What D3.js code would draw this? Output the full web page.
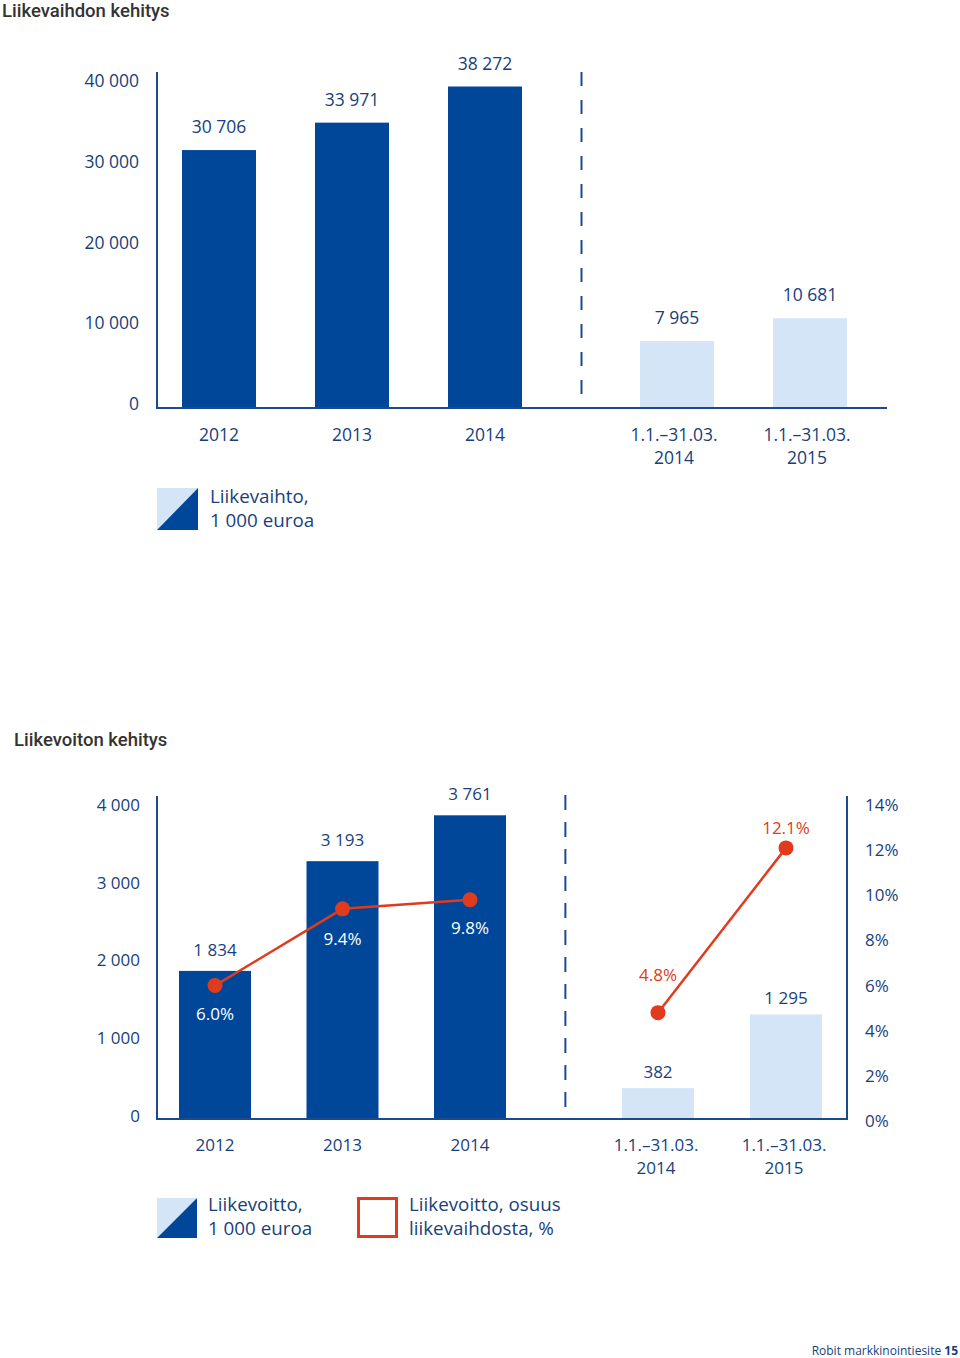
<!DOCTYPE html>
<html><head><meta charset="utf-8">
<script src="https://cdn.jsdelivr.net/npm/d3@7"></script>
<style>
html,body{margin:0;padding:0;background:#fff;}
text{font-family:"Open Sans","Noto Sans",sans-serif;}
</style></head>
<body>
<svg id="c" width="960" height="1358"></svg>
<script>
// ---------- DATA ----------
const revYears = ["2012", "2013", "2014"];
const revValues = [30706, 33971, 38272];
const revQuarters = ["1.1.–31.03. 2014", "1.1.–31.03. 2015"];
const revQuarterValues = [7965, 10681];
const revTicks = [0, 10000, 20000, 30000, 40000];

const ebitYears = ["2012", "2013", "2014"];
const ebitValues = [1834, 3193, 3761];
const ebitPct = [6.0, 9.4, 9.8];
const ebitQuarters = ["1.1.–31.03. 2014", "1.1.–31.03. 2015"];
const ebitQuarterValues = [382, 1295];
const ebitQuarterPct = [4.8, 12.1];
const ebitTicks = [0, 1000, 2000, 3000, 4000];
const pctTicks = [0, 2, 4, 6, 8, 10, 12, 14];

// ---------- STYLE ----------
const DARK = "#00479a", LIGHT = "#d3e5f7", AXIS = "#1d4a8c", TXT = "#183f7c", RED = "#e03b1c", TITLE = "#333333";
const fmt = d3.formatLocale({decimal: ".", thousands: " ", grouping: [3], currency: ["", ""]}).format(",");
const svg = d3.select("#c");

function splitLabel(s){ const i = s.lastIndexOf(" "); return [s.slice(0, i), s.slice(i + 1)]; }

// ================= CHART 1 =================
svg.append("text").attr("x", 2).attr("y", 17).attr("fill", TITLE)
  .style("font-family", "Roboto, sans-serif").style("font-weight", 500).style("font-size", "18.5px")
  .text("Liikevaihdon kehitys");

const y1 = d3.scaleLinear().domain([0, 40000]).range([408, 72]);
const y1Lab = d3.scaleLinear().domain([0, 40000]).range([404, 81]);
const x1a = d3.scaleBand().domain(revYears).range([152.5, 551.5]).paddingInner(59 / 133).paddingOuter(29.5 / 133);
const x1q = d3.scaleBand().domain(revQuarters).range([610.5, 876.5]).paddingInner(59 / 133).paddingOuter(29.5 / 133);

// tick labels
const ax1 = svg.append("g").attr("transform", "translate(139,0)")
  .call(d3.axisLeft(y1Lab).tickValues(revTicks).tickSize(0).tickPadding(0).tickFormat(fmt));
ax1.select(".domain").remove();
ax1.selectAll("text").attr("fill", TXT).style("font-size", "17.5px").style("font-family", "'Open Sans',sans-serif");

// bars
const g1 = svg.append("g");
g1.selectAll("rect.a").data(revValues).join("rect").attr("class", "a")
  .attr("x", (d, i) => x1a(revYears[i])).attr("width", x1a.bandwidth())
  .attr("y", d => y1(d)).attr("height", d => y1(0) - y1(d)).attr("fill", DARK);
g1.selectAll("rect.q").data(revQuarterValues).join("rect").attr("class", "q")
  .attr("x", (d, i) => x1q(revQuarters[i])).attr("width", x1q.bandwidth())
  .attr("y", d => y1(d)).attr("height", d => y1(0) - y1(d)).attr("fill", LIGHT);

// value labels
g1.selectAll("text.va").data(revValues).join("text").attr("class", "va")
  .attr("x", (d, i) => x1a(revYears[i]) + x1a.bandwidth() / 2).attr("y", d => y1(d) - 17)
  .attr("text-anchor", "middle").attr("fill", TXT).style("font-size", "17.5px").text(fmt);
g1.selectAll("text.vq").data(revQuarterValues).join("text").attr("class", "vq")
  .attr("x", (d, i) => x1q(revQuarters[i]) + x1q.bandwidth() / 2).attr("y", d => y1(d) - 17)
  .attr("text-anchor", "middle").attr("fill", TXT).style("font-size", "17.5px").text(fmt);

// axes lines
svg.append("line").attr("x1", 157).attr("x2", 157).attr("y1", y1(40000)).attr("y2", y1(0)).attr("stroke", AXIS).attr("stroke-width", 2);
svg.append("line").attr("x1", 156).attr("x2", 887).attr("y1", y1(0)).attr("y2", y1(0)).attr("stroke", AXIS).attr("stroke-width", 2);
const dash1x = (x1a.range()[1] + x1q.range()[0]) / 2 + 0.5;
svg.append("line").attr("x1", dash1x).attr("x2", dash1x).attr("y1", y1(40000)).attr("y2", y1(0))
  .attr("stroke", AXIS).attr("stroke-width", 2).attr("stroke-dasharray", "14,14");

// x labels
svg.selectAll("text.xa1").data(revYears).join("text").attr("class", "xa1")
  .attr("x", d => x1a(d) + x1a.bandwidth() / 2).attr("y", 441).attr("text-anchor", "middle")
  .attr("fill", TXT).style("font-size", "17.5px").text(d => d);
revQuarters.forEach(q => {
  const [l1, l2] = splitLabel(q);
  const t = svg.append("text").attr("text-anchor", "middle").attr("fill", TXT).style("font-size", "17.5px");
  t.append("tspan").attr("x", x1q(q) + x1q.bandwidth() / 2 - 3).attr("y", 441).text(l1);
  t.append("tspan").attr("x", x1q(q) + x1q.bandwidth() / 2 - 3).attr("y", 464).text(l2);
});

// legend 1
function splitIcon(x, y, w, h){
  svg.append("polygon").attr("points", `${x},${y} ${x+w},${y} ${x},${y+h}`).attr("fill", LIGHT);
  svg.append("polygon").attr("points", `${x+w},${y} ${x+w},${y+h} ${x},${y+h}`).attr("fill", DARK);
}
function legendText(x, y1p, y2p, a, b){
  svg.append("text").attr("x", x).attr("y", y1p).attr("fill", TXT).style("font-size", "18.8px").text(a);
  svg.append("text").attr("x", x).attr("y", y2p).attr("fill", TXT).style("font-size", "18.8px").text(b);
}
splitIcon(157, 488, 41, 42);
legendText(210, 503, 527, "Liikevaihto,", "1 000 euroa");

// ================= CHART 2 =================
svg.append("text").attr("x", 14).attr("y", 746).attr("fill", TITLE)
  .style("font-family", "Roboto, sans-serif").style("font-weight", 500).style("font-size", "18.5px")
  .text("Liikevoiton kehitys");

const y2 = d3.scaleLinear().domain([0, 4000]).range([1119, 796]);
const y2Lab = d3.scaleLinear().domain([0, 4000]).range([1116, 805]);
const p2 = d3.scaleLinear().domain([0, 14]).range([1121, 805]);
const x2a = d3.scaleBand().domain(ebitYears).range([151.25, 533.75]).paddingInner(55.5 / 127.5).paddingOuter(27.75 / 127.5);
const x2q = d3.scaleBand().domain(ebitQuarters).range([594, 850]).paddingInner(56 / 128).paddingOuter(28 / 128);

const ax2 = svg.append("g").attr("transform", "translate(140,0)")
  .call(d3.axisLeft(y2Lab).tickValues(ebitTicks).tickSize(0).tickPadding(0).tickFormat(fmt));
ax2.select(".domain").remove();
ax2.selectAll("text").attr("fill", TXT).style("font-size", "17px").style("font-family", "'Open Sans',sans-serif");

const ax3 = svg.append("g").attr("transform", "translate(865,0)")
  .call(d3.axisRight(p2).tickValues(pctTicks).tickSize(0).tickPadding(0).tickFormat(d => d + "%"));
ax3.select(".domain").remove();
ax3.selectAll("text").attr("fill", TXT).style("font-size", "17px").style("font-family", "'Open Sans',sans-serif");

const g2 = svg.append("g");
g2.selectAll("rect.a").data(ebitValues).join("rect").attr("class", "a")
  .attr("x", (d, i) => x2a(ebitYears[i])).attr("width", x2a.bandwidth())
  .attr("y", d => y2(d)).attr("height", d => y2(0) - y2(d)).attr("fill", DARK);
g2.selectAll("rect.q").data(ebitQuarterValues).join("rect").attr("class", "q")
  .attr("x", (d, i) => x2q(ebitQuarters[i])).attr("width", x2q.bandwidth())
  .attr("y", d => y2(d)).attr("height", d => y2(0) - y2(d)).attr("fill", LIGHT);

g2.selectAll("text.va").data(ebitValues).join("text").attr("class", "va")
  .attr("x", (d, i) => x2a(ebitYears[i]) + x2a.bandwidth() / 2).attr("y", d => y2(d) - 15)
  .attr("text-anchor", "middle").attr("fill", TXT).style("font-size", "17px").text(fmt);
g2.selectAll("text.vq").data(ebitQuarterValues).join("text").attr("class", "vq")
  .attr("x", (d, i) => x2q(ebitQuarters[i]) + x2q.bandwidth() / 2).attr("y", d => y2(d) - 10)
  .attr("text-anchor", "middle").attr("fill", TXT).style("font-size", "17px").text(fmt);

// axes lines
svg.append("line").attr("x1", 157).attr("x2", 157).attr("y1", y2(4000)).attr("y2", y2(0)).attr("stroke", AXIS).attr("stroke-width", 2);
svg.append("line").attr("x1", 847).attr("x2", 847).attr("y1", y2(4000)).attr("y2", y2(0)).attr("stroke", AXIS).attr("stroke-width", 2);
svg.append("line").attr("x1", 156).attr("x2", 848).attr("y1", y2(0)).attr("y2", y2(0)).attr("stroke", AXIS).attr("stroke-width", 2);
const dash2x = (x2a.range()[1] + x2q.range()[0]) / 2 + 1.5;
svg.append("line").attr("x1", dash2x).attr("x2", dash2x).attr("y1", y2(4000) - 1).attr("y2", y2(0))
  .attr("stroke", AXIS).attr("stroke-width", 2).attr("stroke-dasharray", "15,12");

// percentage lines
const lineA = d3.line().x((d, i) => x2a(ebitYears[i]) + x2a.bandwidth() / 2).y(d => p2(d));
const lineQ = d3.line().x((d, i) => x2q(ebitQuarters[i]) + x2q.bandwidth() / 2).y(d => p2(d));
g2.append("path").attr("d", lineA(ebitPct)).attr("fill", "none").attr("stroke", RED).attr("stroke-width", 2.5);
g2.append("path").attr("d", lineQ(ebitQuarterPct)).attr("fill", "none").attr("stroke", RED).attr("stroke-width", 2.5);
g2.selectAll("circle.a").data(ebitPct).join("circle").attr("class", "a")
  .attr("cx", (d, i) => x2a(ebitYears[i]) + x2a.bandwidth() / 2).attr("cy", d => p2(d)).attr("r", 7.5).attr("fill", RED);
g2.selectAll("circle.q").data(ebitQuarterPct).join("circle").attr("class", "q")
  .attr("cx", (d, i) => x2q(ebitQuarters[i]) + x2q.bandwidth() / 2).attr("cy", d => p2(d)).attr("r", 7.5).attr("fill", RED);

const pctFmt = d => d.toFixed(1) + "%";
const dyA = [34, 36, 34], dyQ = [-32, -14];
g2.selectAll("text.pa").data(ebitPct).join("text").attr("class", "pa")
  .attr("x", (d, i) => x2a(ebitYears[i]) + x2a.bandwidth() / 2).attr("y", (d, i) => p2(d) + dyA[i])
  .attr("text-anchor", "middle").attr("fill", "#fff").style("font-size", "17px").text(pctFmt);
g2.selectAll("text.pq").data(ebitQuarterPct).join("text").attr("class", "pq")
  .attr("x", (d, i) => x2q(ebitQuarters[i]) + x2q.bandwidth() / 2).attr("y", (d, i) => p2(d) + dyQ[i])
  .attr("text-anchor", "middle").attr("fill", RED).style("font-size", "17px").text(pctFmt);

// x labels
svg.selectAll("text.xa2").data(ebitYears).join("text").attr("class", "xa2")
  .attr("x", d => x2a(d) + x2a.bandwidth() / 2).attr("y", 1151).attr("text-anchor", "middle")
  .attr("fill", TXT).style("font-size", "17px").text(d => d);
ebitQuarters.forEach(q => {
  const [l1, l2] = splitLabel(q);
  const t = svg.append("text").attr("text-anchor", "middle").attr("fill", TXT).style("font-size", "17px");
  t.append("tspan").attr("x", x2q(q) + x2q.bandwidth() / 2 - 2).attr("y", 1151).text(l1);
  t.append("tspan").attr("x", x2q(q) + x2q.bandwidth() / 2 - 2).attr("y", 1174).text(l2);
});

// legend 2
splitIcon(157, 1198, 40, 40);
legendText(208, 1211, 1235, "Liikevoitto,", "1 000 euroa");
svg.append("rect").attr("x", 358.5).attr("y", 1198.5).attr("width", 38).attr("height", 38)
  .attr("fill", "none").attr("stroke", RED).attr("stroke-width", 3);
legendText(409, 1211, 1235, "Liikevoitto, osuus", "liikevaihdosta, %");

// footer
const ft = svg.append("text").attr("x", 958).attr("y", 1355).attr("text-anchor", "end").attr("fill", TXT).style("font-size", "12px");
ft.append("tspan").text("Robit markkinointiesite ");
ft.append("tspan").style("font-weight", 700).text("15");
</script>
</body></html>
